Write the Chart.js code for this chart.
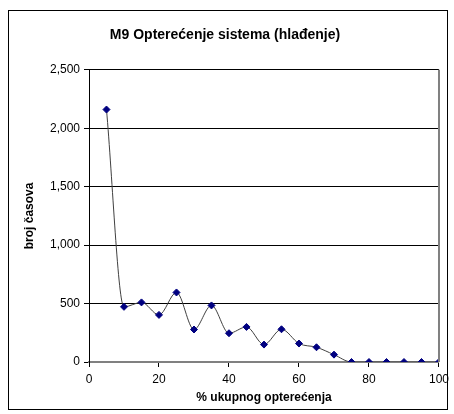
<!DOCTYPE html>
<html>
<head>
<meta charset="utf-8">
<script src="https://cdn.jsdelivr.net/npm/chart.js@4/dist/chart.umd.min.js"></script>
<style>
  html, body { margin: 0; padding: 0; background: #fff; }
  #wrap { width: 454px; height: 414px; }
</style>
</head>
<body>
<div id="wrap"><canvas id="loadChart" width="454" height="414"></canvas></div>
<script>
// % of total load (x) and number of hours (y)
const loadPercent = [5, 10, 15, 20, 25, 30, 35, 40, 45, 50, 55, 60, 65, 70, 75, 80, 85, 90, 95, 100];
const hours = [2160, 472, 510, 403, 595, 278, 484, 246, 300, 149, 280, 158, 126, 63, 0, 0, 0, 0, 0, 0];

const chartTitle = 'M9 Opterećenje sistema (hlađenje)';
const xTitle = '% ukupnog opterećenja';
const yTitle = 'broj časova';

// outer frame + grey right border of the plot area
const framePlugin = {
    id: 'frame',
    afterDraw(chart) {
        const ctx = chart.ctx;
        const a = chart.chartArea;
        ctx.save();
        ctx.strokeStyle = '#000';
        ctx.lineWidth = 1;
        ctx.strokeRect(8.5, 10.5, 439, 399);
        ctx.strokeStyle = '#808080';
        ctx.lineWidth = 2;
        ctx.beginPath();
        ctx.moveTo(a.right, a.top);
        ctx.lineTo(a.right, a.bottom);
        ctx.stroke();
        ctx.restore();
    }
};

const ctx = document.getElementById('loadChart').getContext('2d');
const loadChart = new Chart(ctx, {
    type: 'line',
    data: {
        datasets: [{
            data: loadPercent.map((x, i) => ({ x: x, y: hours[i] })),
            borderColor: '#404040',
            borderWidth: 1,
            tension: 0.4,
            cubicInterpolationMode: 'monotone',
            pointStyle: 'rectRot',
            pointRadius: 3.5,
            pointBackgroundColor: '#000080',
            pointBorderColor: '#000080',
            pointBorderWidth: 1
        }]
    },
    options: {
        responsive: false,
        animation: false,
        layout: { padding: { left: 10, right: 14, top: 27, bottom: 6 } },
        plugins: {
            legend: { display: false },
            tooltip: { enabled: false },
            title: {
                display: true,
                text: chartTitle,
                color: '#000',
                font: { family: 'Liberation Sans, Arial', size: 14, weight: 'bold' },
                padding: { top: 0, bottom: 26 }
            }
        },
        scales: {
            x: {
                type: 'linear',
                min: 0,
                max: 100,
                ticks: {
                    stepSize: 20,
                    color: '#000',
                    font: { family: 'Liberation Sans, Arial', size: 12 },
                    padding: 5
                },
                grid: {
                    drawOnChartArea: false,
                    drawTicks: true,
                    tickLength: 5,
                    color: '#000'
                },
                border: { color: '#808080', width: 2 },
                title: {
                    display: true,
                    text: xTitle,
                    color: '#000',
                    font: { family: 'Liberation Sans, Arial', size: 12, weight: 'bold' },
                    padding: { top: 4, bottom: 3 }
                },
                afterFit(scale) { scale.height = 46; }
            },
            y: {
                min: 0,
                max: 2500,
                ticks: {
                    stepSize: 500,
                    color: '#000',
                    font: { family: 'Liberation Sans, Arial', size: 12 },
                    padding: 4
                },
                grid: {
                    color: '#000',
                    tickLength: 5
                },
                border: { color: '#000', width: 1 },
                title: {
                    display: true,
                    text: yTitle,
                    color: '#000',
                    font: { family: 'Liberation Sans, Arial', size: 12, weight: 'bold' },
                    padding: { top: 12, bottom: 6 }
                },
                afterFit(scale) { scale.width = 79; }
            }
        }
    },
    plugins: [framePlugin]
});
</script>
</body>
</html>
